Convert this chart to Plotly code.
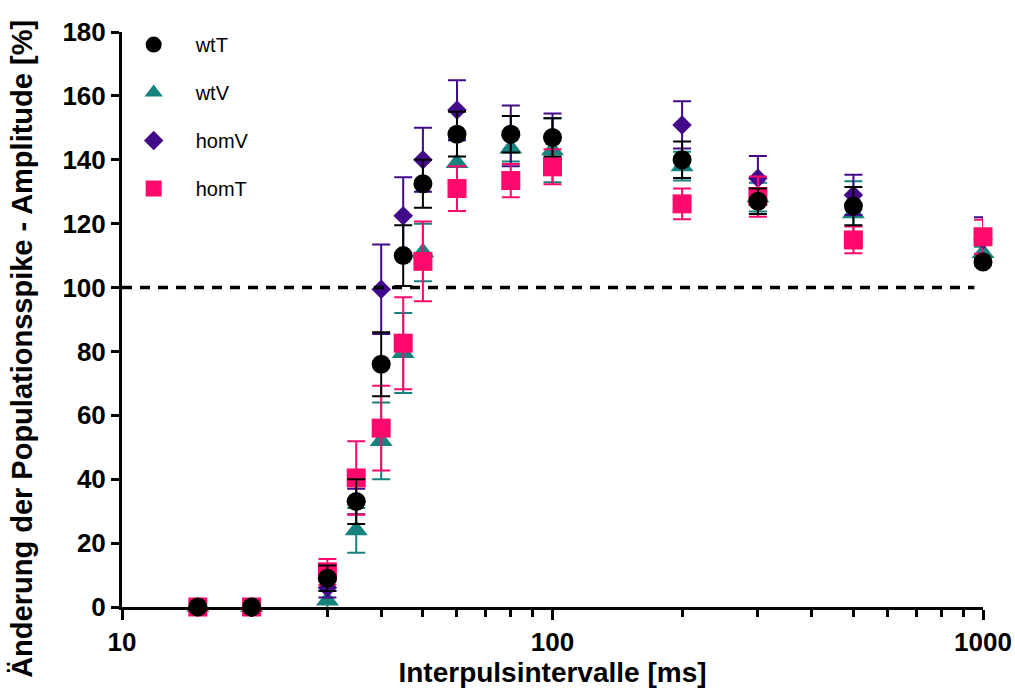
import plotly.graph_objects as go

x_ms = [15, 20, 30, 35, 40, 45, 50, 60, 80, 100, 200, 300, 500, 1000]

wtT = [0, 0, 9, 33, 76, 110, 132.5, 148, 148, 147, 140, 127, 125.5, 108]
wtT_err = [0, 0, 4, 7, 10, 9.5, 7.5, 7, 5.7, 6, 5.7, 4, 6, 1]

wtV = [0, 0, 2, 24, 52, 79.5, 111, 139, 143.5, 143, 138, 128.3, 123.3, 110.8]
wtV_err = [0, 0, 3, 7, 12, 12.5, 9, 7, 4, 10, 4.5, 4.5, 10, 2]

homV = [0, 0, 6, 33, 99.5, 122.5, 140, 155.6, 147.5, 147, 150.9, 134.2, 129, 115]
homV_err = [0, 0, 3, 4, 14, 12, 10, 9.3, 9.5, 7.5, 7.4, 7, 6.3, 7]

homT = [0, 0, 11, 40.4, 56, 82.6, 108.2, 131, 133.5, 137.8, 126.2, 128.5, 114.9, 115.9]
homT_err = [0, 0, 4, 11.5, 13.3, 14.4, 12.5, 7, 5.2, 5.5, 4.8, 6.3, 4.2, 5.3]

y_ticks = [0, 20, 40, 60, 80, 100, 120, 140, 160, 180]
x_ticks = [10, 100, 1000]
x_minor = [20, 30, 40, 50, 60, 70, 80, 90, 200, 300, 400, 500, 600, 700, 800, 900]

C_BLACK = "#000000"
C_TEAL = "#16837f"
C_PURPLE = "#420a8a"
C_PINK = "#ff0a6c"

FONT = "Liberation Sans, Arial, sans-serif"

fig = go.Figure()

def add(name, y, err, color, symbol, rank, size):
    fig.add_trace(go.Scatter(
        x=x_ms, y=y, name=name, mode="markers",
        marker=dict(color=color, symbol=symbol, size=size, line=dict(width=0)),
        error_y=dict(type="data", array=err, visible=True, color=color,
                     thickness=2, width=9),
        cliponaxis=False, legendrank=rank, legendgroup=name,
    ))

add("wtV", wtV, wtV_err, C_TEAL, "triangle-up", 2, 20)
add("homV", homV, homV_err, C_PURPLE, "diamond", 3, 15)
add("homT", homT, homT_err, C_PINK, "square", 4, 19)
add("wtT", wtT, wtT_err, C_BLACK, "circle", 1, 19)

fig.add_shape(type="line", xref="paper", yref="y", x0=0, x1=0.99, y0=100, y1=100,
              line=dict(color="black", width=3.5, dash="10px,8px"))

fig.add_annotation(text="<b>Änderung der Populationsspike - Amplitude [%]</b>",
                   xref="paper", yref="paper", x=0, y=0.449,
                   xshift=-100, textangle=-90, showarrow=False,
                   xanchor="center", yanchor="middle",
                   font=dict(size=29, family=FONT, color="black"))

fig.update_layout(
    width=1015, height=691,
    margin=dict(l=122, r=32, t=32, b=84),
    paper_bgcolor="white", plot_bgcolor="white",
    font=dict(family=FONT, color="black"),
    showlegend=True,
    legend=dict(x=-0.012, y=1.012, xanchor="left", yanchor="top",
                font=dict(size=20, family=FONT), tracegroupgap=19,
                itemwidth=74,
                bgcolor="rgba(0,0,0,0)", itemsizing="trace"),
    xaxis=dict(type="log", range=[1, 3], automargin=False,
               tickvals=x_ticks, ticktext=[str(v) for v in x_ticks],
               ticks="outside", ticklen=10, tickwidth=3, tickcolor="black",
               showline=True, linecolor="black", linewidth=3,
               showgrid=False, zeroline=False,
               tickfont=dict(size=26, family=FONT, weight="bold"),
               minor=dict(tickvals=x_minor, ticks="outside", ticklen=7,
                          tickwidth=2.5, tickcolor="black", showgrid=False),
               title=dict(text="Interpulsintervalle [ms]",
                          font=dict(size=28, family=FONT, weight="bold"),
                          standoff=3)),
    yaxis=dict(range=[0, 180], tickvals=y_ticks, automargin=False,
               ticks="outside", ticklen=8, tickwidth=3, tickcolor="black",
               showline=True, linecolor="black", linewidth=3,
               showgrid=False, zeroline=False,
               tickfont=dict(size=26, family=FONT, weight="bold")),
)

fig.write_html("out.html")
